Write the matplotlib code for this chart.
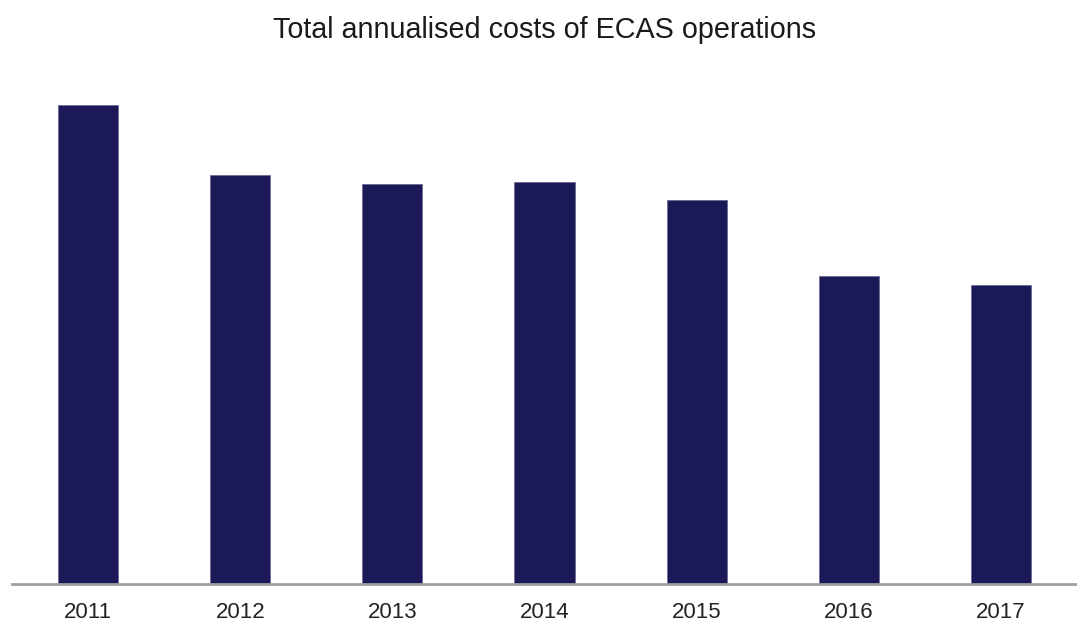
import matplotlib
matplotlib.use("Agg")
import matplotlib.pyplot as plt

years = ["2011", "2012", "2013", "2014", "2015", "2016", "2017"]
costs = [479, 409, 400, 402, 384, 308, 299]

plt.rcParams["font.family"] = ["Liberation Sans", "DejaVu Sans"]

fig = plt.figure(figsize=(10.77, 6.22), dpi=100)
ax = fig.add_axes([12 / 1077, 38 / 622, 1065 / 1077, 534 / 622])

x = range(len(years))
ax.bar(x, costs, width=0.395, color="#1b1957", edgecolor="#6a6a95", linewidth=0.6)

ax.set_xlim(-0.5, 6.5)
ax.set_ylim(0, 534)
ax.set_xticks(list(x))
ax.set_xticklabels(years, fontsize=16, color="#222222")
ax.tick_params(axis="x", length=0, pad=13)
ax.set_yticks([])

for side in ["top", "right", "left"]:
    ax.spines[side].set_visible(False)
ax.spines["bottom"].set_color("#a0a0a0")
ax.spines["bottom"].set_linewidth(2)

fig.text(544.5 / 1077, 1 - 38 / 622, "Total annualised costs of ECAS operations",
         ha="center", va="baseline", fontsize=20.7, color="#1a1a1a")

fig.savefig("out.png", dpi=100)
